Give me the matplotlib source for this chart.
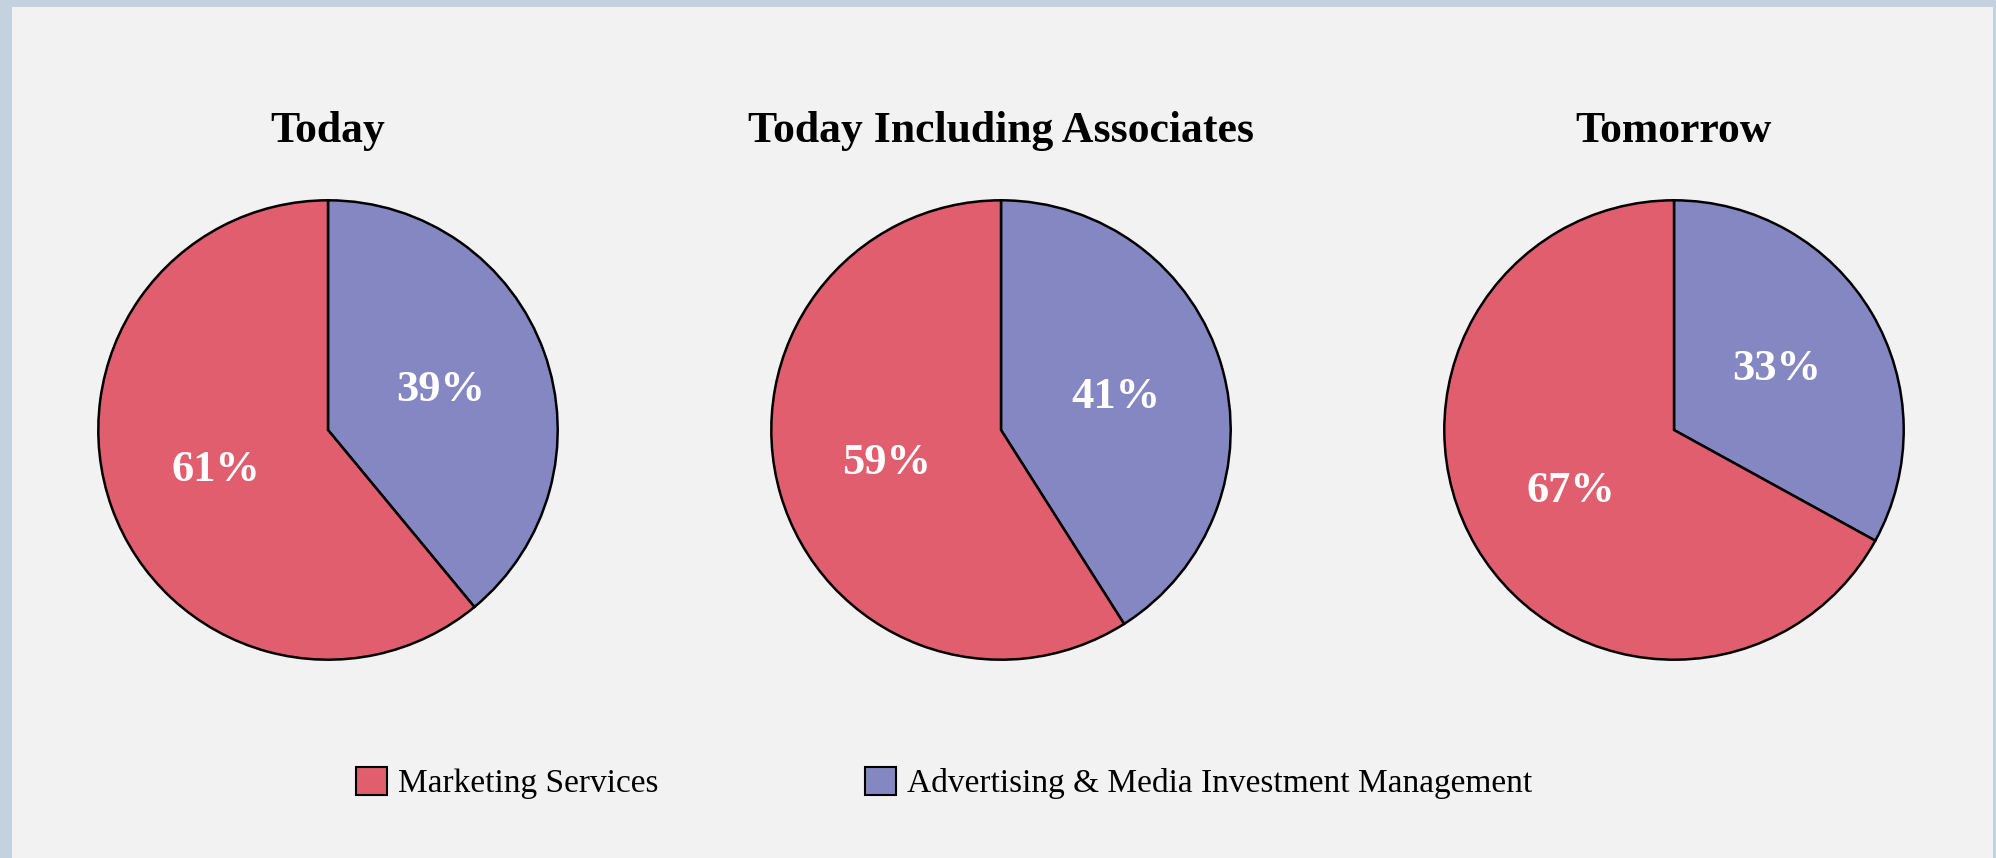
import matplotlib
matplotlib.use('Agg')
import matplotlib.pyplot as plt
from matplotlib.patches import Patch, Rectangle

plt.rcParams['font.family'] = ['Liberation Serif', 'DejaVu Serif']

# Data
titles = ['Today', 'Today Including Associates', 'Tomorrow']
categories = ['Marketing Services', 'Advertising & Media Investment Management']
marketing = [61, 59, 67]
advertising = [39, 41, 33]
colors = ['#E05E6E', '#8587C2']

W, H = 1996, 858
fig = plt.figure(figsize=(W / 100, H / 100), dpi=100)
fig.patch.set_facecolor('#c3d2de')

# light paper panel inside the blue frame
fig.patches.append(Rectangle((12 / W, 0), (1993 - 12) / W, 1 - 7 / H,
                             transform=fig.transFigure, facecolor='#f2f2f2',
                             edgecolor='none', zorder=-5))

centers_x = [328, 1001, 1674]
cy = 430
r = 232

for i, cx in enumerate(centers_x):
    ax = fig.add_axes([(cx - r) / W, 1 - (cy + r) / H, 2 * r / W, 2 * r / H])
    ax.set_facecolor('none')
    vals = [advertising[i], marketing[i]]
    wedges, texts, autotexts = ax.pie(
        vals, colors=[colors[1], colors[0]], startangle=90, counterclock=False,
        autopct=lambda p: f'{round(p)}%', pctdistance=0.52, radius=1,
        wedgeprops=dict(edgecolor='black', linewidth=1.8),
        textprops=dict(color='white', fontsize=32, fontweight='bold'))
    ax.set_xlim(-1.01, 1.01)
    ax.set_ylim(-1.01, 1.01)
    ax.set_aspect('equal')
    ax.axis('off')
    fig.text(cx / W, 1 - 142 / H, titles[i], ha='center', va='baseline',
             fontsize=31.5, fontweight='bold', color='black')

handles = [Patch(facecolor=colors[0], edgecolor='black', linewidth=1.5),
           Patch(facecolor=colors[1], edgecolor='black', linewidth=1.5)]
fig.legend(handles, categories, loc='center', bbox_to_anchor=(944 / W, 1 - 783 / H),
           ncol=2, frameon=False, fontsize=24, handlelength=0.93, handleheight=0.93,
           handletextpad=0.33, columnspacing=6.2)

fig.savefig('out.png', dpi=100, facecolor=fig.get_facecolor())
